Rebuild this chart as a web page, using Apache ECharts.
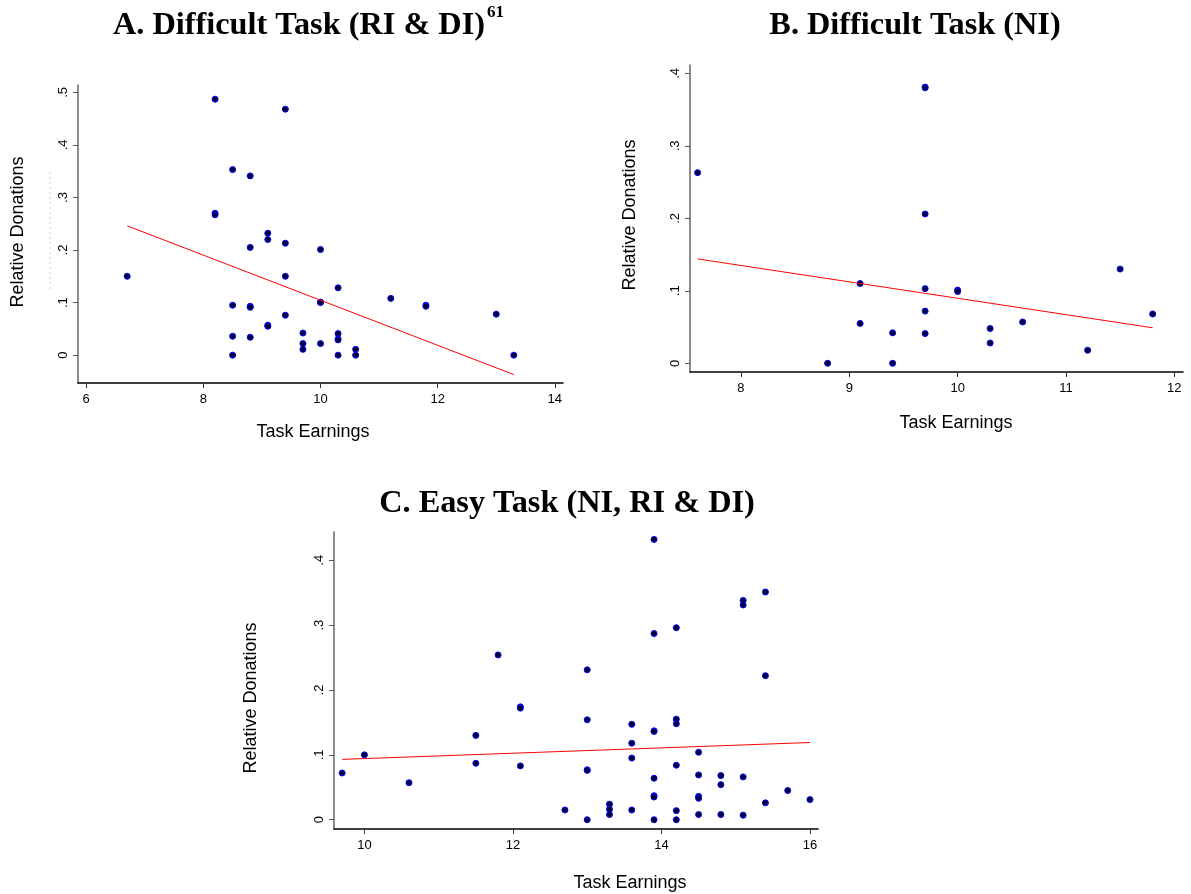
<!DOCTYPE html>
<html>
<head>
<meta charset="utf-8">
<script src="https://cdn.jsdelivr.net/npm/echarts@6/dist/echarts.min.js"></script>
<style>
  html, body { margin: 0; padding: 0; background: #fff; }
  #chart { width: 1191px; height: 894px; }
</style>
</head>
<body>
<div id="chart"></div>
<script>
// panel A: difficult task (RI & DI)
const aEarn = [6.7, 8.2, 8.2, 8.2, 8.5, 8.5, 8.5, 8.5, 8.8, 8.8, 8.8, 8.8, 8.8, 9.1, 9.1, 9.1, 9.1, 9.4, 9.4, 9.4, 9.4, 9.7, 9.7, 9.7, 10, 10, 10, 10, 10.3, 10.3, 10.3, 10.3, 10.3, 10.6, 10.6, 11.2, 11.8, 11.8, 13, 13.3];
const aDon = [0.150, 0.487, 0.270, 0.267, 0.353, 0.095, 0.036, 0, 0.341, 0.205, 0.093, 0.091, 0.034, 0.232, 0.220, 0.057, 0.055, 0.468, 0.213, 0.150, 0.076, 0.042, 0.022, 0.011, 0.201, 0.101, 0.100, 0.022, 0.128, 0.041, 0.031, 0.029, 0, 0.011, 0, 0.108, 0.095, 0.093, 0.078, 0];
const aFit = [[6.7, 0.246], [13.3, -0.037]];
const aXTicks = [6, 8, 10, 12, 14];
const aYTicks = [0, 0.1, 0.2, 0.3, 0.4, 0.5];

// panel B: difficult task (NI)
const bEarn = [7.6, 8.8, 9.1, 9.1, 9.4, 9.4, 9.7, 9.7, 9.7, 9.7, 9.7, 9.7, 10, 10, 10.3, 10.3, 10.6, 11.2, 11.5, 11.8];
const bDon = [0.263, 0, 0.110, 0.055, 0.042, 0, 0.381, 0.380, 0.206, 0.103, 0.072, 0.041, 0.101, 0.099, 0.048, 0.028, 0.057, 0.018, 0.130, 0.068];
const bFit = [[7.6, 0.144], [11.8, 0.049]];
const bXTicks = [8, 9, 10, 11, 12];
const bYTicks = [0, 0.1, 0.2, 0.3, 0.4];

// panel C: easy task (NI, RI & DI)
const cEarn = [9.7, 10, 10.6, 11.5, 11.5, 11.8, 12.1, 12.1, 12.1, 12.7, 13, 13, 13, 13, 13, 13.3, 13.3, 13.3, 13.6, 13.6, 13.6, 13.6, 13.9, 13.9, 13.9, 13.9, 13.9, 13.9, 13.9, 13.9, 14.2, 14.2, 14.2, 14.2, 14.2, 14.2, 14.5, 14.5, 14.5, 14.5, 14.5, 14.8, 14.8, 14.8, 15.1, 15.1, 15.1, 15.1, 15.4, 15.4, 15.4, 15.7, 16];
const cDon = [0.072, 0.100, 0.057, 0.130, 0.087, 0.254, 0.174, 0.172, 0.083, 0.015, 0.231, 0.154, 0.077, 0.076, 0, 0.024, 0.016, 0.008, 0.147, 0.118, 0.095, 0.015, 0.432, 0.287, 0.137, 0.136, 0.064, 0.037, 0.035, 0, 0.296, 0.155, 0.148, 0.084, 0.014, 0, 0.104, 0.069, 0.036, 0.033, 0.008, 0.068, 0.054, 0.008, 0.338, 0.331, 0.066, 0.007, 0.351, 0.222, 0.026, 0.045, 0.031];
const cFit = [[9.7, 0.093], [16, 0.119]];
const cXTicks = [10, 12, 14, 16];
const cYTicks = [0, 0.1, 0.2, 0.3, 0.4];

var chart = echarts.init(document.getElementById('chart'));

function zip(xs, ys) {
  return xs.map(function (x, i) { return [x, ys[i]]; });
}

function yLabel(v) {
  if (v === 0) return '0';
  return String(Math.round(v * 10) / 10).replace('0.', '.');
}

function xAx(idx, min, max, ticks) {
  return {
    type: 'value', gridIndex: idx, min: min, max: max,
    axisLine: { onZero: false, lineStyle: { color: '#000', width: 1.5 } },
    axisTick: { customValues: ticks, length: 5, lineStyle: { color: '#333' } },
    axisLabel: { customValues: ticks, color: '#000', fontSize: 13, fontFamily: 'Liberation Sans', margin: 10 },
    splitLine: { show: false }
  };
}

function yAx(idx, min, max, ticks) {
  return {
    type: 'value', gridIndex: idx, min: min, max: max,
    axisLine: { show: true, onZero: false, lineStyle: { color: '#666', width: 1.5 } },
    axisTick: { show: true, customValues: ticks, length: 5, lineStyle: { color: '#555' } },
    axisLabel: { customValues: ticks, rotate: 90, color: '#000', fontSize: 13, fontFamily: 'Liberation Sans', margin: 8, formatter: yLabel },
    splitLine: { show: false }
  };
}

function dots(idx, xs, ys) {
  return {
    type: 'scatter', xAxisIndex: idx, yAxisIndex: idx,
    data: zip(xs, ys), symbolSize: 6,
    itemStyle: { color: '#000033', borderColor: '#0000ff', borderWidth: 1, opacity: 1 }
  };
}

function fit(idx, pts) {
  return {
    type: 'line', xAxisIndex: idx, yAxisIndex: idx,
    data: pts, showSymbol: false, silent: true,
    lineStyle: { color: '#ff0000', width: 1 }
  };
}

function txt(x, y, s, font, rot) {
  return {
    type: 'text', x: x, y: y, rotation: rot || 0,
    style: { text: s, font: font, fill: '#000', textAlign: 'center', textVerticalAlign: 'middle' }
  };
}

var titleFont = 'bold 32.3px "Liberation Serif"';
var axFont = '18px "Liberation Sans"';

chart.setOption({
  animation: false,
  grid: [
    { left: 78, top: 85, width: 485, height: 298 },
    { left: 690, top: 65, width: 493, height: 307 },
    { left: 334, top: 532, width: 484, height: 297 }
  ],
  xAxis: [
    xAx(0, 5.86, 14.14, aXTicks),
    xAx(1, 7.53, 12.08, bXTicks),
    xAx(2, 9.59, 16.108, cXTicks)
  ],
  yAxis: [
    yAx(0, -0.053, 0.514, aYTicks),
    yAx(1, -0.012, 0.4115, bYTicks),
    yAx(2, -0.0143, 0.4435, cYTicks)
  ],
  series: [
    fit(0, aFit), dots(0, aEarn, aDon),
    fit(1, bFit), dots(1, bEarn, bDon),
    fit(2, cFit), dots(2, cEarn, cDon)
  ],
  graphic: [
    txt(299, 26, 'A. Difficult Task (RI & DI)', titleFont),
    { type: 'text', x: 487, y: 4, style: { text: '61', font: 'bold 17px "Liberation Serif"', fill: '#000' } },
    txt(915, 26, 'B. Difficult Task (NI)', titleFont),
    txt(567, 504, 'C. Easy Task (NI, RI & DI)', titleFont),
    txt(313, 432, 'Task Earnings', axFont),
    txt(956, 423, 'Task Earnings', axFont),
    txt(630, 883, 'Task Earnings', axFont),
    txt(18, 232, 'Relative Donations', axFont, Math.PI / 2),
    txt(630, 215, 'Relative Donations', axFont, Math.PI / 2),
    txt(251, 698, 'Relative Donations', axFont, Math.PI / 2),
    // faint dotted mark left of panel A's axis
    { type: 'line', shape: { x1: 50, y1: 172, x2: 50, y2: 292 }, style: { stroke: '#cccccc', lineWidth: 1, lineDash: [2, 3] } }
  ]
});

window.onresize = function () { chart.resize(); };
</script>
</body>
</html>
